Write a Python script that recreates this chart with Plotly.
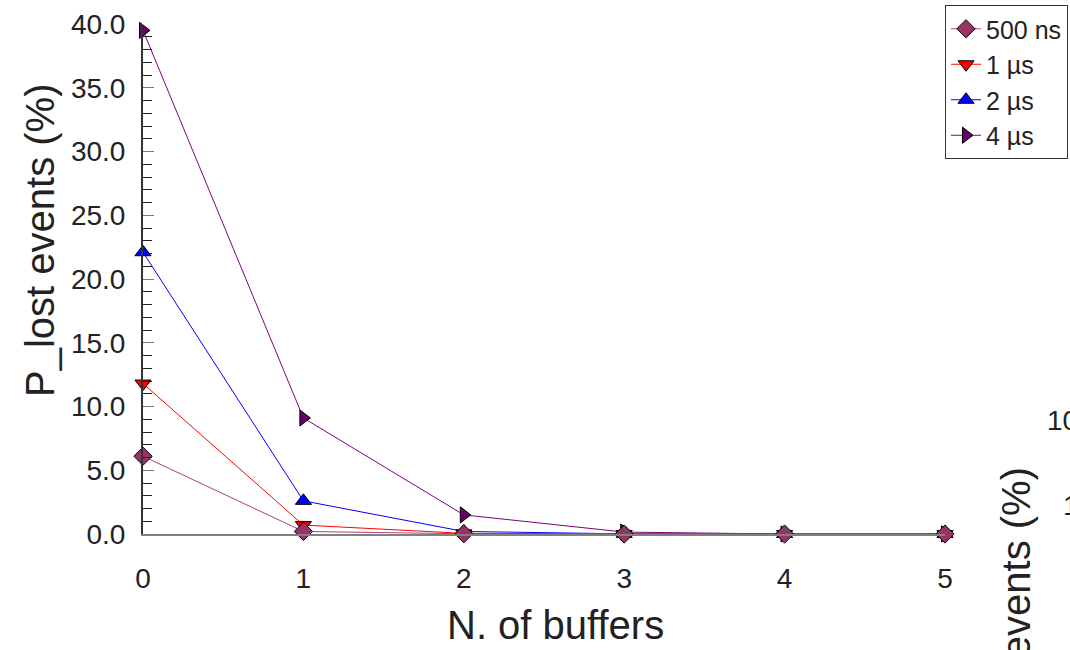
import plotly.graph_objects as go

buffers = [0, 1, 2, 3, 4, 5]
series_names = ["500 ns", "1 µs", "2 µs", "4 µs"]
p_500ns = [6.1, 0.2, 0.02, 0.0, 0.0, 0.0]
p_1us = [11.8, 0.7, 0.05, 0.0, 0.0, 0.0]
p_2us = [22.1, 2.6, 0.2, 0.01, 0.0, 0.0]
p_4us = [39.5, 9.1, 1.5, 0.15, 0.0, 0.0]
y_ticks = [0, 5, 10, 15, 20, 25, 30, 35, 40]
y_ticklabels = ["0.0", "5.0", "10.0", "15.0", "20.0", "25.0", "30.0", "35.0", "40.0"]

styles = {
    "500 ns": dict(symbol="diamond", fill="#993366", line="#A8447A"),
    "1 µs": dict(symbol="triangle-down", fill="#FF0000", line="#FF0000"),
    "2 µs": dict(symbol="triangle-up", fill="#0000FF", line="#0000FF"),
    "4 µs": dict(symbol="triangle-right", fill="#660066", line="#800080"),
}
data = {"500 ns": p_500ns, "1 µs": p_1us, "2 µs": p_2us, "4 µs": p_4us}

fig = go.Figure()
for name in reversed(series_names):
    s = styles[name]
    fig.add_trace(go.Scatter(
        x=buffers, y=data[name], name=name, mode="lines+markers",
        line=dict(color=s["line"], width=1),
        marker=dict(symbol=s["symbol"], size=14, color=s["fill"],
                    line=dict(color="#000000", width=1)),
        cliponaxis=False,
    ))

L, R, T, B = 143, 125, 24, 116
W, H = 1070, 650
pw, ph = W - L - R, H - T - B

def px(x):
    return (x - L) / pw

def py(y):
    return (H - B - y) / ph

font = "Liberation Sans, Arial, sans-serif"
txt = "#222222"
fig.update_layout(
    width=W, height=H,
    margin=dict(l=L, r=R, t=T, b=B, autoexpand=False),
    paper_bgcolor="white", plot_bgcolor="white",
    font=dict(family=font, color=txt),
    showlegend=True,
    legend=dict(
        x=px(945), y=py(5), xanchor="left", yanchor="top",
        traceorder="reversed", bgcolor="white",
        bordercolor="#333333", borderwidth=1,
        font=dict(size=25, family=font, color=txt),
        itemwidth=30,
    ),
    xaxis=dict(
        range=[0, 5], tickvals=buffers, ticks="inside", ticklen=9,
        tickcolor="#555555", showline=True, linecolor="#808080", linewidth=2,
        showgrid=False, zeroline=False, ticklabelstandoff=18,
        tickfont=dict(size=28, family=font),
    ),
    yaxis=dict(
        range=[0, 40], tickvals=y_ticks, ticktext=y_ticklabels, ticks="inside",
        ticklen=11, tickcolor="#777777", showline=True, linecolor="#333333",
        linewidth=2, showgrid=False, zeroline=False, ticklabelstandoff=10,
        minor=dict(dtick=1, ticks="inside", ticklen=9, tickcolor="#222222"),
        tickfont=dict(size=28, family=font),
    ),
)

# axis titles
fig.add_annotation(text="N. of buffers", xref="paper", yref="paper",
                   x=px(555), y=py(625), xanchor="center", yanchor="middle",
                   showarrow=False, font=dict(size=40, family=font, color=txt))
fig.add_annotation(text="P_lost events (%)", textangle=-90, xref="paper", yref="paper",
                   x=px(40), y=py(241), xanchor="center", yanchor="middle",
                   showarrow=False, font=dict(size=40, family=font, color=txt))

# Partially visible neighbouring chart at the right edge
fig.add_annotation(text="P_lost events (%)", textangle=-90, xref="paper", yref="paper",
                   x=px(1015), y=py(466), xanchor="center", yanchor="top",
                   showarrow=False, font=dict(size=40, family=font, color=txt))
fig.add_annotation(text="100", xref="paper", yref="paper", x=px(1096), y=py(420),
                   xanchor="right", yanchor="middle", showarrow=False,
                   font=dict(size=28, family=font, color=txt))
fig.add_annotation(text="10", xref="paper", yref="paper", x=px(1096), y=py(505),
                   xanchor="right", yanchor="middle", showarrow=False,
                   font=dict(size=28, family=font, color=txt))

fig.write_html("out.html")
